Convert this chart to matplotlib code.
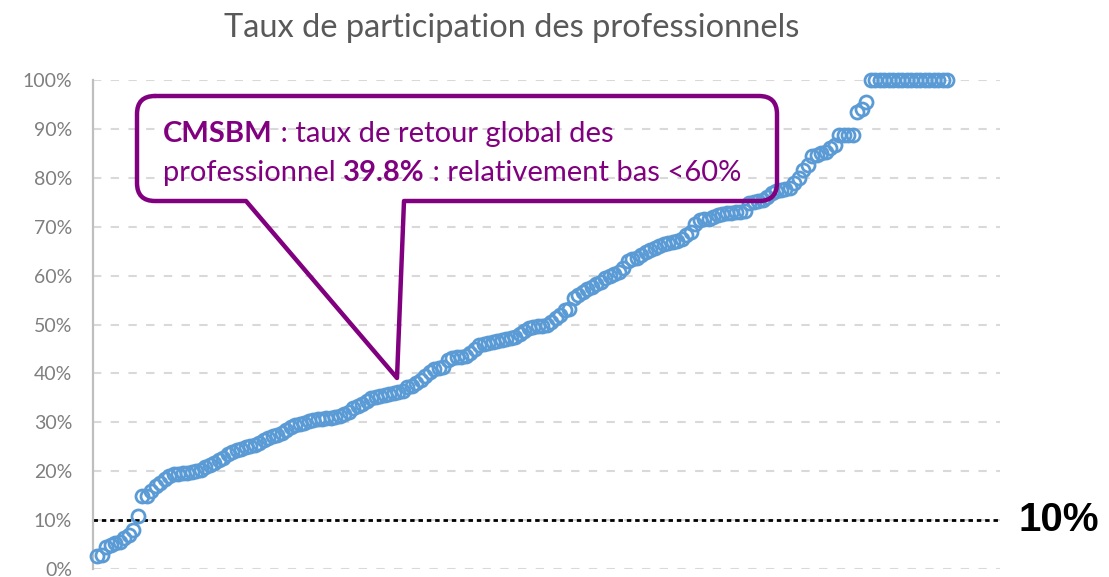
import matplotlib.pyplot as plt
from matplotlib.path import Path
from matplotlib.patches import PathPatch
from matplotlib.ticker import PercentFormatter, MultipleLocator

W, H = 1109, 577

# taux de participation (%) par structure, triés
taux = [
    2.7, 2.9, 4.6, 5.0, 5.3, 5.6, 6.4, 7.0, 8.0, 10.8,
    15.0, 15.0, 16.0, 17.0, 17.6, 18.4, 19.0, 19.4, 19.5, 19.6,
    19.7, 19.8, 20.0, 20.3, 20.8, 21.2, 21.6, 22.2, 22.8, 23.5,
    23.9, 24.3, 24.6, 24.9, 25.2, 25.4, 25.8, 26.3, 26.8, 27.2,
    27.5, 27.9, 28.5, 29.0, 29.4, 29.6, 29.8, 30.2, 30.5, 30.6,
    30.7, 30.8, 30.9, 31.0, 31.2, 31.6, 32.2, 33.0, 33.4, 33.8,
    34.4, 35.0, 35.2, 35.4, 35.6, 35.8, 36.0, 36.2, 36.5, 37.2,
    37.4, 38.0, 38.6, 39.5, 40.2, 40.8, 41.2, 41.3, 42.8, 43.2,
    43.3, 43.4, 43.5, 44.2, 45.0, 45.8, 46.0, 46.2, 46.4, 46.6,
    46.8, 47.0, 47.2, 47.4, 48.0, 48.6, 49.2, 49.5, 49.6, 49.7,
    49.8, 50.5, 51.3, 52.0, 53.0, 53.2, 55.4, 56.0, 56.6, 57.2,
    57.6, 58.2, 58.6, 59.6, 60.0, 60.3, 60.7, 61.5, 63.0, 63.4,
    63.6, 64.2, 64.8, 65.2, 65.6, 66.0, 66.5, 66.7, 66.8, 67.0,
    67.5, 68.3, 69.0, 70.5, 71.3, 71.5, 71.6, 72.0, 72.4, 72.6,
    72.8, 72.9, 73.0, 73.1, 73.2, 74.8, 75.0, 75.2, 75.5, 76.0,
    76.8, 77.2, 77.5, 77.8, 78.0, 79.0, 80.0, 81.5, 82.6, 84.5,
    84.7, 85.0, 85.3, 86.0, 86.7, 88.7, 88.7, 88.7, 88.7, 93.4,
    94.0, 95.5,
    100, 100, 100, 100, 100, 100, 100, 100, 100,
    100, 100, 100, 100, 100, 100, 100, 100, 100,
]
seuil = 0.10
titre = 'Taux de participation des professionnels'
ligne1 = [('CMSBM', 'bold'), (' : taux de retour global des', 'normal')]
ligne2 = [('professionnel ', 'normal'), ('39.8%', 'bold'), (' : relativement bas <60%', 'normal')]

violet = '#800080'
bleu = '#5b9bd5'
font = 'Lato'

fig = plt.figure(figsize=(W / 100, H / 100), dpi=100)
ax = fig.add_axes([93 / W, (H - 569) / H, (1000 - 93) / W, (569 - 80) / H])

x = list(range(len(taux)))
ax.plot(x, [v / 100 for v in taux], 'o', mfc='none', mec=bleu, ms=9.4, mew=2.0,
        clip_on=False, zorder=3)
ax.axhline(seuil, color='black', lw=2, linestyle=(0, (1.6, 1.4)), zorder=2)

ax.set_xlim(-0.9, 200.7)
ax.set_ylim(0, 1)
ax.yaxis.set_major_locator(MultipleLocator(0.1))
ax.yaxis.set_major_formatter(PercentFormatter(1.0, decimals=0))
ax.grid(axis='y', color='#d9d9d9', lw=1.5, linestyle=(0, (4, 4.5)), zorder=0)
ax.set_xticks([])
for s in ['top', 'right', 'bottom']:
    ax.spines[s].set_visible(False)
ax.spines['left'].set_color('#bfbfbf')
ax.spines['left'].set_linewidth(1.6)
ax.tick_params(axis='y', length=0, pad=15, labelsize=14, labelcolor='#7f7f7f')
for lab in ax.get_yticklabels():
    lab.set_fontfamily(font)

fig.text(512 / W, 1 - 28 / H, titre, ha='center', va='center', fontsize=23.5,
         color='#595959', family=font)

ax.text(1.02, seuil, '10%', transform=ax.transAxes, ha='left', va='center',
        fontsize=29, fontweight='bold', family='Liberation Sans', color='black')

# bulle
def px(p):
    return (p[0] / W, 1 - p[1] / H)

L, R, T, B, r = 137, 777, 96, 201, 18
tip = (397, 378)
pts = [(L + r, T), (R - r, T), (R, T), (R, T + r), (R, B - r), (R, B), (R - r, B),
       (404, B), tip, (246, B), (L + r, B), (L, B), (L, B - r), (L, T + r), (L, T),
       (L + r, T)]
codes = [Path.MOVETO, Path.LINETO, Path.CURVE3, Path.CURVE3, Path.LINETO, Path.CURVE3,
         Path.CURVE3, Path.LINETO, Path.LINETO, Path.LINETO, Path.LINETO, Path.CURVE3,
         Path.CURVE3, Path.LINETO, Path.CURVE3, Path.CURVE3]
bulle = PathPatch(Path([px(p) for p in pts], codes), transform=fig.transFigure,
                  facecolor='none', edgecolor=violet, lw=3.2, joinstyle='round',
                  capstyle='round', zorder=5)
fig.patches.append(bulle)

renderer = fig.canvas.get_renderer()
for ligne, base in [(ligne1, 142), (ligne2, 181)]:
    xx = 163
    for txt, w in ligne:
        t = fig.text(xx / W, 1 - base / H, txt, ha='left', va='baseline', fontsize=21,
                     fontweight=w, color=violet, family=font)
        bb = t.get_window_extent(renderer)
        xx += bb.width

fig.savefig('out.png', dpi=100)
